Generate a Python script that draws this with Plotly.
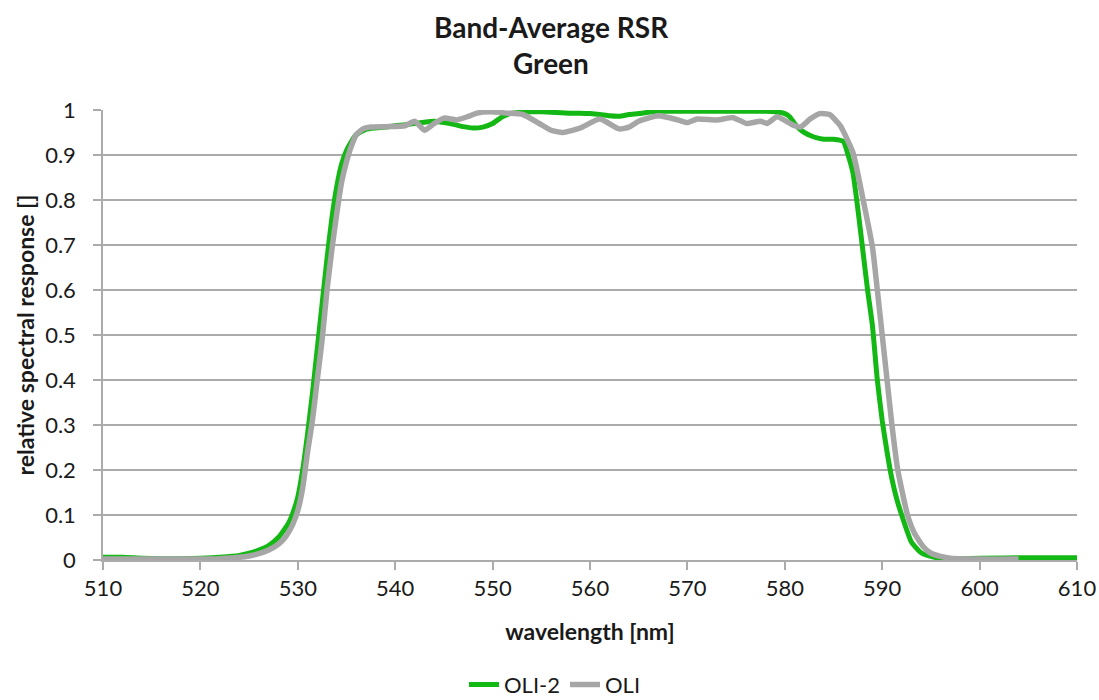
import plotly.graph_objects as go

# OLI-2 band-average relative spectral response, green band
wl_oli2 = [510, 512, 514, 516, 518, 520, 522, 524, 525, 526, 527, 528, 529, 529.5,
           530, 530.5, 531, 531.5, 532, 532.5, 533, 533.5, 534, 534.5, 535, 535.5,
           536, 537, 538, 539, 540, 541, 542, 543, 544, 545, 546, 547, 548, 549,
           550, 551, 552, 553, 554, 555, 556, 557, 558, 559, 560, 561, 562, 563,
           564, 565, 566, 567, 568, 570, 572, 574, 576, 578, 579, 580, 580.5, 581,
           581.5, 582, 583, 584, 585, 586, 586.5, 587, 587.5, 588, 588.5, 589,
           589.5, 590, 590.5, 591, 591.5, 592, 593, 594, 595, 596, 598, 600, 605, 610]
rsr_oli2 = [0.006, 0.006, 0.004, 0.003, 0.003, 0.004, 0.006, 0.010, 0.015, 0.022,
            0.032, 0.050, 0.080, 0.105, 0.140, 0.200, 0.280, 0.370, 0.470, 0.570,
            0.670, 0.760, 0.830, 0.880, 0.910, 0.930, 0.945, 0.957, 0.960, 0.962,
            0.965, 0.967, 0.970, 0.973, 0.975, 0.972, 0.968, 0.963, 0.960, 0.962,
            0.970, 0.985, 0.993, 0.995, 0.996, 0.996, 0.995, 0.994, 0.993, 0.993,
            0.992, 0.990, 0.987, 0.986, 0.990, 0.992, 0.995, 0.997, 0.997, 0.997,
            0.997, 0.997, 0.997, 0.997, 0.996, 0.992, 0.985, 0.970, 0.958, 0.950,
            0.940, 0.935, 0.935, 0.930, 0.900, 0.860, 0.780, 0.690, 0.600, 0.520,
            0.400, 0.310, 0.240, 0.180, 0.135, 0.100, 0.040, 0.016, 0.008, 0.004,
            0.003, 0.004, 0.005, 0.005]

# OLI band-average relative spectral response, green band
wl_oli = [510, 512, 514, 516, 518, 520, 522, 524, 525, 526, 527, 528, 528.5, 529,
          529.5, 530, 530.5, 531, 531.5, 532, 532.5, 533, 533.5, 534, 534.5, 535,
          535.5, 536, 536.7, 537.5, 539, 541, 542, 543, 544, 545, 546.3, 547.4,
          548.4, 549.7, 551.5, 553.1, 554.8, 556, 557.2, 559, 561, 563, 564, 565,
          567, 569, 570, 571, 573, 574.7, 576.1, 577.5, 578.2, 579.2, 580.8, 581.6,
          582.6, 583.6, 584.6, 585.7, 587, 588, 589, 589.5, 590, 590.5, 591,
          591.6, 592.6, 593.3, 594.2, 595, 596, 597, 600, 604]
rsr_oli = [0.002, 0.002, 0.002, 0.002, 0.002, 0.002, 0.003, 0.006, 0.009, 0.014,
           0.022, 0.035, 0.045, 0.060, 0.080, 0.110, 0.160, 0.240, 0.310, 0.400,
           0.490, 0.600, 0.690, 0.770, 0.840, 0.885, 0.920, 0.945, 0.958, 0.962,
           0.963, 0.965, 0.975, 0.955, 0.970, 0.982, 0.978, 0.985, 0.993, 0.996,
           0.993, 0.990, 0.970, 0.955, 0.950, 0.960, 0.980, 0.958, 0.962, 0.975,
           0.987, 0.978, 0.972, 0.980, 0.978, 0.983, 0.970, 0.975, 0.970, 0.985,
           0.967, 0.962, 0.980, 0.992, 0.990, 0.965, 0.905, 0.805, 0.695, 0.600,
           0.500, 0.400, 0.300, 0.200, 0.100, 0.060, 0.030, 0.015, 0.008, 0.004,
           0.002, 0.002]

x_ticks = [510, 520, 530, 540, 550, 560, 570, 580, 590, 600, 610]
y_ticks = [0, 0.1, 0.2, 0.3, 0.4, 0.5, 0.6, 0.7, 0.8, 0.9, 1]
y_tick_text = ["0", "0.1", "0.2", "0.3", "0.4", "0.5", "0.6", "0.7", "0.8", "0.9", "1"]

FONT = "Lato, 'Open Sans', sans-serif"
GRID = "#ABABAB"
TEXT = "#1A1A1A"

fig = go.Figure()
fig.add_trace(go.Scatter(
    x=wl_oli2, y=rsr_oli2, name="OLI-2", mode="lines",
    line=dict(color="#14B814", width=5, shape="spline", smoothing=0.5),
    cliponaxis=False,
))
fig.add_trace(go.Scatter(
    x=wl_oli, y=rsr_oli, name="OLI", mode="lines",
    line=dict(color="#A6A6A6", width=5.5, shape="spline", smoothing=0.5),
    cliponaxis=False,
))

fig.update_layout(
    width=1099, height=700,
    margin=dict(l=103, r=22, t=110, b=140, autoexpand=False),
    paper_bgcolor="white", plot_bgcolor="white",
    font=dict(family=FONT, size=22, color=TEXT),
    showlegend=True,
    legend=dict(orientation="h", x=0.505, xref="container", xanchor="center",
                y=0.022, yref="container", yanchor="middle",
                font=dict(size=22, color=TEXT), itemwidth=30,
                tracegroupgap=0, traceorder="normal"),
)

# two-line chart title
fig.add_annotation(text="<b>Band-Average RSR</b>", xref="paper", yref="paper",
                   x=0.46, y=1.0, yshift=83, showarrow=False, font=dict(size=28),
                   xanchor="center", yanchor="middle")
fig.add_annotation(text="<b>Green</b>", xref="paper", yref="paper",
                   x=0.46, y=1.0, yshift=47, showarrow=False, font=dict(size=28),
                   xanchor="center", yanchor="middle")

fig.update_xaxes(
    range=[510, 610], tickmode="array", tickvals=x_ticks,
    showgrid=False, zeroline=False, automargin=False,
    showline=True, linecolor=GRID, linewidth=1.5,
    ticks="outside", ticklen=8, tickcolor=GRID, tickwidth=1.5,
    tickfont=dict(size=22),
    title=dict(text="<b>wavelength [nm]</b>", font=dict(size=23), standoff=24),
)
fig.update_yaxes(
    range=[0, 1], tickmode="array", tickvals=y_ticks, ticktext=y_tick_text,
    showgrid=True, gridcolor=GRID, gridwidth=1.5, zeroline=False, automargin=False,
    showline=True, linecolor=GRID, linewidth=1.5,
    ticks="outside", ticklen=8, tickcolor=GRID, tickwidth=1.5,
    tickfont=dict(size=22), ticklabelstandoff=13,
    title=dict(text="<b>relative spectral response []</b>", font=dict(size=23), standoff=4),
)

fig.write_html("out.html")
